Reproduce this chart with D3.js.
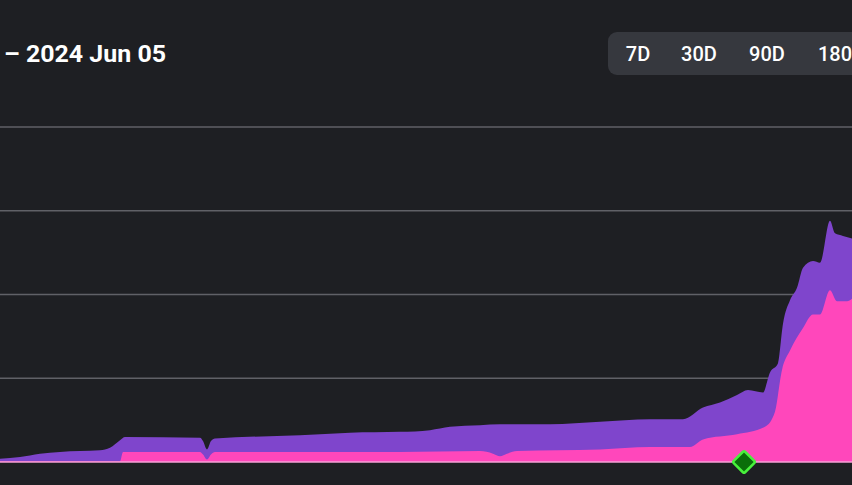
<!DOCTYPE html>
<html><head><meta charset="utf-8">
<script src="https://cdn.jsdelivr.net/npm/d3@7"></script>
<style>body{margin:0;background:#1e1f23;}svg{display:block;}</style>
</head><body><div id="chart"></div>
<script>
// day index along visible range, values in grid units
const totalDays = [0,20,40,60,80,100,110,120,125,200,203,207,211,215,300,350,400,430,450,480,500,550,600,650,683,703,720,737,748,763,770,778,783,790,797,803,813,820,830,835,843,852];
const totalVals = [0.04,0.06,0.1,0.12,0.13,0.14,0.17,0.26,0.3,0.29,0.25,0.15,0.25,0.28,0.32,0.35,0.36,0.38,0.42,0.44,0.45,0.45,0.48,0.51,0.51,0.65,0.71,0.8,0.86,0.83,1.07,1.18,1.65,1.93,2.08,2.32,2.4,2.38,2.88,2.73,2.7,2.67];
const pinkDays = [0,120,123,200,203,207,211,215,400,480,493,500,507,517,600,650,690,703,737,765,775,782,790,803,813,820,830,837,847,852];
const pinkVals = [0.01,0.01,0.12,0.12,0.09,0.03,0.09,0.12,0.12,0.13,0.1,0.07,0.1,0.13,0.15,0.18,0.18,0.27,0.33,0.42,0.6,1.1,1.33,1.6,1.76,1.76,2.05,1.92,1.92,1.95];
const gridVals = [0,1,2,3,4];
const ranges = ['7D','30D','90D','180'];
const markerDay = 744;

const W = 852, H = 485;
const svg = d3.select('#chart').append('svg').attr('width', W).attr('height', H);
svg.append('rect').attr('width', W).attr('height', H).attr('fill', '#1e1f23');

const x = d3.scaleLinear().domain([0, 852]).range([0, W]);
const y = d3.scaleLinear().domain([0, 4]).range([462, 127]);

svg.selectAll('.grid').data(gridVals.slice(1)).join('line')
    .attr('x1', 0).attr('x2', W).attr('y1', d => y(d)).attr('y2', d => y(d))
    .attr('stroke', '#606167').attr('stroke-width', 1.5);

const area = d3.area().x(d => x(d[0])).y0(y(0)).y1(d => y(d[1])).curve(d3.curveMonotoneX);
svg.append('path').datum(d3.zip(totalDays, totalVals)).attr('d', area).attr('fill', '#7f45cc');
svg.append('path').datum(d3.zip(pinkDays, pinkVals)).attr('d', area).attr('fill', '#ff47bb');

svg.append('line').attr('x1', 0).attr('x2', W).attr('y1', y(0)).attr('y2', y(0))
    .attr('stroke', '#f6a0d6').attr('stroke-width', 1.5);

svg.append('rect').attr('x', x(markerDay) - 8).attr('y', y(0) - 8).attr('width', 16).attr('height', 16)
    .attr('transform', `rotate(45 ${x(markerDay)} ${y(0)})`)
    .attr('fill', '#0a6e0a').attr('stroke', '#48f03c').attr('stroke-width', 2.5).attr('rx', 1.5);

svg.append('text').attr('x', 4).attr('y', 62).attr('fill', '#fff')
    .style('font-family', 'Roboto, sans-serif').style('font-weight', 'bold').style('font-size', '24px')
    .attr('textLength', 162).attr('lengthAdjust', 'spacingAndGlyphs')
    .text('– 2024 Jun 05');

svg.append('rect').attr('x', 608).attr('y', 32).attr('width', 270).attr('height', 43).attr('rx', 9).attr('fill', '#36383e');
const bx = [638, 699, 767, 835];
svg.selectAll('.btn').data(ranges).join('text')
    .attr('x', (d, i) => bx[i]).attr('y', 61).attr('text-anchor', 'middle').attr('fill', '#fff')
    .style('font-family', 'Roboto, sans-serif').style('font-size', '20px').style('font-weight', 500)
    .text(d => d);
</script></body></html>
